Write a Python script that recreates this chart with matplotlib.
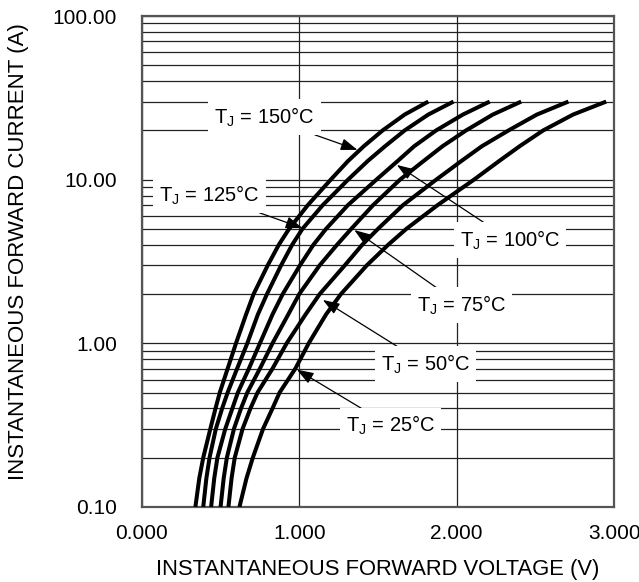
import matplotlib.pyplot as plt
from matplotlib.ticker import FixedLocator, LogLocator, NullFormatter

plt.rcParams['font.family'] = ['Liberation Sans', 'DejaVu Sans']
plt.rcParams['mathtext.fontset'] = 'custom'
plt.rcParams['mathtext.rm'] = 'Liberation Sans'
plt.rcParams['mathtext.it'] = 'Liberation Sans'

# forward current points (A) shared by all curves
currents = [0.1, 0.15, 0.2, 0.3, 0.4, 0.5, 0.7, 1, 1.5, 2, 3, 4, 5, 7, 10, 13, 16, 20, 25, 30]

# forward voltage (V) for each junction temperature
v_150 = [0.34, 0.365, 0.39, 0.435, 0.468, 0.495, 0.545, 0.598, 0.662, 0.71,
         0.80, 0.87, 0.935, 1.055, 1.20, 1.31, 1.41, 1.53, 1.67, 1.82]
v_125 = [0.39, 0.41, 0.43, 0.47, 0.51, 0.545, 0.605, 0.67, 0.737, 0.795,
         0.885, 0.955, 1.02, 1.15, 1.31, 1.435, 1.545, 1.67, 1.82, 1.98]
v_100 = [0.44, 0.46, 0.48, 0.53, 0.575, 0.61, 0.68, 0.75, 0.83, 0.895,
         1.005, 1.09, 1.17, 1.31, 1.49, 1.625, 1.73, 1.87, 2.04, 2.21]
v_75 = [0.50, 0.52, 0.54, 0.585, 0.63, 0.67, 0.75, 0.83, 0.93, 1.00,
        1.13, 1.24, 1.33, 1.47, 1.64, 1.79, 1.91, 2.06, 2.23, 2.41]
v_50 = [0.55, 0.57, 0.59, 0.64, 0.69, 0.735, 0.83, 0.92, 1.04, 1.13,
        1.29, 1.40, 1.50, 1.66, 1.87, 2.03, 2.16, 2.33, 2.51, 2.71]
v_25 = [0.62, 0.665, 0.705, 0.77, 0.83, 0.875, 0.975, 1.06, 1.17, 1.265,
        1.43, 1.565, 1.68, 1.88, 2.11, 2.27, 2.40, 2.55, 2.74, 2.95]
curves = [v_150, v_125, v_100, v_75, v_50, v_25]

# labels: text, text position (V, A), arrow tip (V, A)
labels = ['T$_\\mathrm{J}$ = 150°C', 'T$_\\mathrm{J}$ = 125°C', 'T$_\\mathrm{J}$ = 100°C',
          'T$_\\mathrm{J}$ = 75°C', 'T$_\\mathrm{J}$ = 50°C', 'T$_\\mathrm{J}$ = 25°C']
label_xy = [(0.78, 24.1), (0.43, 8.05), (2.34, 4.28), (2.03, 1.71), (1.80, 0.748), (1.58, 0.313)]
tip_xy = [(1.37, 15.2), (1.02, 5.06), (1.62, 12.3), (1.35, 4.92), (1.15, 1.84), (0.985, 0.69)]

x_ticks = [0, 1, 2, 3]
x_ticklabels = ['0.000', '1.000', '2.000', '3.000']
y_ticks = [0.1, 1, 10, 100]
y_ticklabels = ['0.10', '1.00', '10.00', '100.00']

fig = plt.figure(figsize=(6.39, 5.82), dpi=100)
ax = fig.add_axes([0.222, 0.129, 0.739, 0.8435])

ax.set_yscale('log')
ax.set_xlim(0, 3)
ax.set_ylim(0.1, 100)

# grid: vertical at the majors, horizontal at every decade step
ax.xaxis.set_major_locator(FixedLocator(x_ticks))
ax.set_xticklabels(x_ticklabels)
ax.yaxis.set_major_locator(FixedLocator(y_ticks))
ax.set_yticklabels(y_ticklabels)
ax.yaxis.set_minor_locator(LogLocator(base=10, subs=range(2, 10)))
ax.yaxis.set_minor_formatter(NullFormatter())
ax.grid(which='major', axis='x', color='#222222', lw=0.9)
ax.grid(which='both', axis='y', color='#222222', lw=0.9)
ax.tick_params(which='both', length=0)
ax.tick_params(axis='y', pad=18, labelsize=15)
ax.tick_params(axis='x', pad=12, labelsize=15)

for s in ax.spines.values():
    s.set_color('#555555')
    s.set_linewidth(1.6)

for v in curves:
    ax.plot(v, currents, color='black', lw=2.9, solid_capstyle='butt',
            solid_joinstyle='round', zorder=3)

for txt, xy, tip in zip(labels, label_xy, tip_xy):
    ax.annotate(txt, xy=tip, xytext=xy, ha='center', va='center', fontsize=14.5,
                bbox=dict(boxstyle='square,pad=0.3', fc='white', ec='none'),
                arrowprops=dict(arrowstyle='-|>,head_length=0.7,head_width=0.25',
                                color='black', lw=0.9, shrinkA=0, shrinkB=0),
                zorder=4)

ax.set_xlabel('INSTANTANEOUS FORWARD VOLTAGE (V)', fontsize=15.8)
ax.set_ylabel('INSTANTANEOUS FORWARD CURRENT (A)', fontsize=16)
ax.xaxis.set_label_coords(0.5, -0.106)
ax.yaxis.set_label_coords(-0.24, 0.52)

plt.savefig('out.png', dpi=100)
